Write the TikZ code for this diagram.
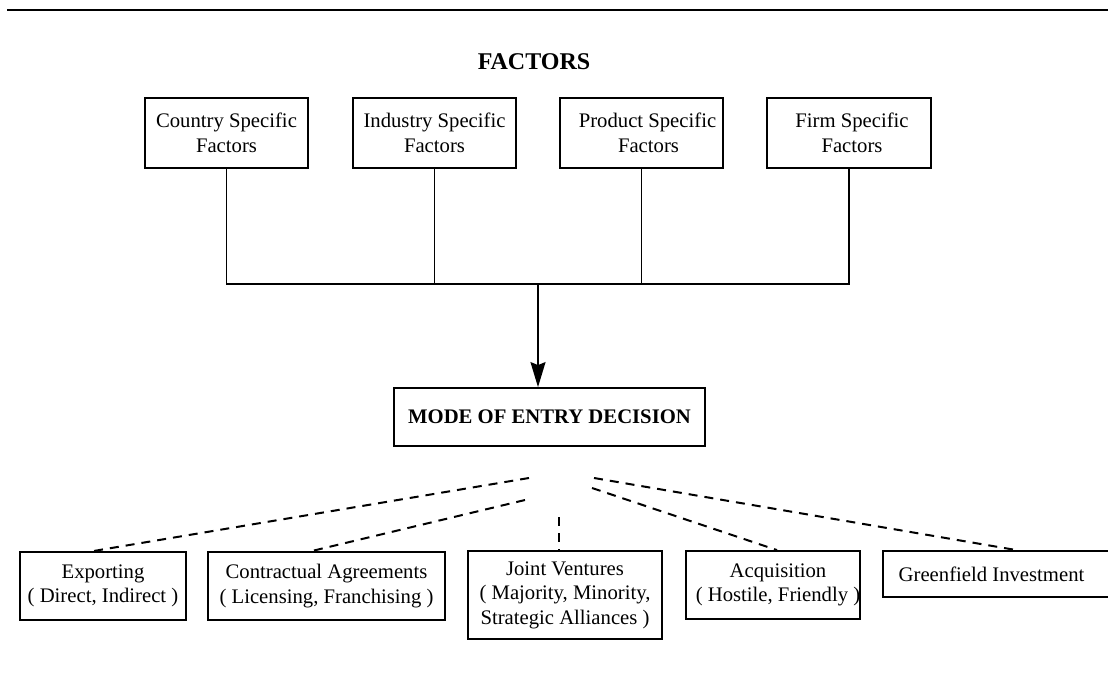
\documentclass[tikz,border=0pt]{standalone}
\usepackage{fontspec}
\setmainfont{Liberation Serif}
\usetikzlibrary{arrows.meta}
\tikzset{
  box/.style={draw, line width=1.8pt, inner sep=0pt, align=center,
    font=\fontsize{20.7}{24.5}\selectfont},
  bold/.style={font=\fontsize{20.7}{24.5}\selectfont\bfseries},
  link/.style={line width=1.7pt},
  dlink/.style={line width=2pt, dash pattern=on 9pt off 7pt}
}
\begin{document}
\begin{tikzpicture}[x=1pt,y=-1pt]
\useasboundingbox (0,0) rectangle (1108,676);
\draw[line width=2.2pt] (7,10) -- (1108,10);
\node[font=\fontsize{24}{28}\selectfont\bfseries] (title) at (534,62) {FACTORS};
% factor boxes
\node[box, minimum width=163pt, minimum height=70pt] (cs) at (226.5,133) {Country Specific\\Factors};
\node[box, minimum width=163pt, minimum height=70pt] (is) at (434.5,133) {Industry Specific\\Factors};
\node[box, minimum width=163pt, minimum height=70pt] (ps) at (641.5,133) {\hspace*{12pt}Product Specific\\\hspace*{14pt}Factors};
\node[box, minimum width=164pt, minimum height=70pt] (fs) at (849,133) {\hspace*{6pt}Firm Specific\\\hspace*{6pt}Factors};
% decision
\node[box, bold, minimum width=311pt, minimum height=58pt] (mode) at (549.5,417) {MODE OF ENTRY DECISION};
% bus
\coordinate (bus) at (538,284);
\draw[link] (cs.south) -- (cs.south |- bus) -- (fs.south |- bus) -- (fs.south);
\draw[link] (is.south) -- (is.south |- bus);
\draw[link] (ps.south) -- (ps.south |- bus);
\draw[link, -{Stealth[length=25pt, width=15pt, inset=3pt]}] (bus) -- (bus |- mode.north);
% entry modes
\node[box, minimum width=166pt, minimum height=68pt] (exp) at (103,586) {Exporting\\( Direct, Indirect )};
\node[box, minimum width=237pt, minimum height=68pt] (con) at (326.5,586) {Contractual Agreements\\( Licensing, Franchising )};
\node[box, minimum width=194pt, minimum height=88pt] (jv) at (565,595) {Joint Ventures\\( Majority, Minority,\\Strategic Alliances )};
\node[box, minimum width=174pt, minimum height=68pt] (acq) at (773,585) {\hspace*{10pt}Acquisition\\\hspace*{10pt}( Hostile, Friendly )};
\node[box, minimum width=229pt, minimum height=46pt] (gf) at (997.5,574) {Greenfield Investment\hspace*{12pt}};
% dashed links
\coordinate (d1) at (529,478);
\coordinate (d2) at (525,500);
\coordinate (d3) at (559,517);
\coordinate (d4) at (592,488);
\coordinate (d5) at (594,478);
\draw[dlink] (d1) -- ([xshift=-10pt]exp.north);
\draw[dlink] (d2) -- ([xshift=-15pt]con.north);
\draw[dlink] (d3) -- (d3 |- jv.north);
\draw[dlink] (d4) -- ([xshift=4pt]acq.north);
\draw[dlink] (d5) -- ([xshift=19pt]gf.north);
\end{tikzpicture}
\end{document}
